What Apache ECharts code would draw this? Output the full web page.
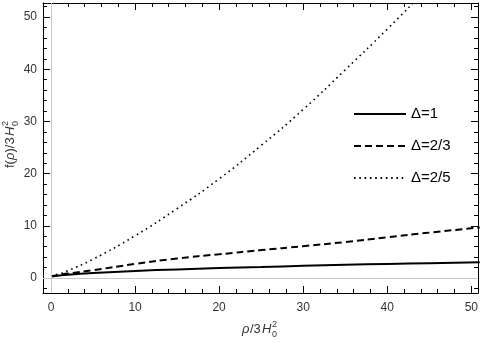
<!DOCTYPE html>
<html>
<head>
  <meta charset="UTF-8">
  <title>f(rho) curves</title>
  <script src="https://cdn.jsdelivr.net/npm/echarts@6/dist/echarts.min.js"></script>
  <style>
    html, body { margin: 0; padding: 0; background: #fff; }
    #chart { width: 481px; height: 343px; }
  </style>
</head>
<body>
  <div id="chart"></div>
  <script>
    // values
    const rho = [0, 1, 2, 5, 10, 15, 20, 25, 30, 35, 40, 45, 51];
    const fDelta1 = [0.3, 0.5, 0.65, 0.95, 1.35, 1.65, 1.9, 2.1, 2.35, 2.55, 2.7, 2.85, 3.0];
    const fDelta23 = [0.35, 0.6, 0.85, 1.5, 2.7, 3.75, 4.55, 5.35, 6.1, 6.9, 7.8, 8.7, 9.7];
    const fDelta25 = [0.4, 0.8, 1.4, 3.6, 8.1, 13.3, 19.0, 25.4, 32.3, 39.9, 47.7, 55.9, 66];
    const seriesNames = ['Δ=1', 'Δ=2/3', 'Δ=2/5'];

    // tick positions
    const xMajor = [0, 10, 20, 30, 40, 50];
    const xMinor = [0, 2, 4, 6, 8, 10, 12, 14, 16, 18, 20, 22, 24, 26, 28, 30, 32, 34, 36, 38, 40, 42, 44, 46, 48, 50];
    const yMajor = [0, 10, 20, 30, 40, 50];
    const yMinor = [-2, 0, 2, 4, 6, 8, 10, 12, 14, 16, 18, 20, 22, 24, 26, 28, 30, 32, 34, 36, 38, 40, 42, 44, 46, 48, 50, 52];

    const X_MIN = -0.95, X_MAX = 50.8;
    const Y_MIN = -2.87, Y_MAX = 52.7;

    const chart = echarts.init(document.getElementById('chart'));
    const font = 'Liberation Sans, Arial, sans-serif';
    const frameColor = '#000';

    const pairs = ys => rho.map((x, i) => [x, ys[i]]);

    function frameAxis(kind, pos, ticks, tickLen, showLine, labels) {
      const ax = {
        type: 'value',
        position: pos,
        min: kind === 'x' ? X_MIN : Y_MIN,
        max: kind === 'x' ? X_MAX : Y_MAX,
        axisLine: { show: showLine, onZero: false, lineStyle: { color: frameColor, width: 1 } },
        axisTick: {
          show: true, inside: true, length: tickLen, customValues: ticks,
          lineStyle: { color: frameColor, width: 1 }
        },
        splitLine: { show: false },
        axisLabel: { show: false }
      };
      if (labels) {
        ax.axisLabel = {
          show: true, color: '#333', fontSize: 12, fontFamily: font,
          margin: kind === 'x' ? 9 : 6,
          customValues: ticks
        };
      }
      return ax;
    }

    const option = {
      animation: false,
      grid: { left: 43, right: 2, top: 3, bottom: 50 },
      xAxis: [
        frameAxis('x', 'bottom', xMajor, 7, true, true),
        frameAxis('x', 'bottom', xMinor, 4, false, false),
        frameAxis('x', 'top', xMajor, 7, true, false),
        frameAxis('x', 'top', xMinor, 4, false, false)
      ],
      yAxis: [
        frameAxis('y', 'left', yMajor, 7, true, true),
        frameAxis('y', 'left', yMinor, 4, false, false),
        frameAxis('y', 'right', yMajor, 7, true, false),
        frameAxis('y', 'right', yMinor, 4, false, false)
      ],
      legend: {
        orient: 'vertical',
        left: 348,
        top: 100,
        itemWidth: 52,
        itemHeight: 14,
        itemGap: 14,
        data: seriesNames,
        itemStyle: { opacity: 0 },
        textStyle: { fontSize: 15, fontFamily: font, color: '#000', lineHeight: 18 }
      },
      series: [
        {
          type: 'line',
          data: [],
          silent: true,
          z: 1,
          markLine: {
            silent: true,
            symbol: 'none',
            label: { show: false },
            lineStyle: { color: '#c8c8c8', width: 1, type: 'solid' },
            data: [{ xAxis: 0 }, { yAxis: 0 }]
          }
        },
        {
          name: seriesNames[0], type: 'line', smooth: true, symbol: 'none', clip: true, z: 3,
          data: pairs(fDelta1),
          lineStyle: { color: '#000', width: 2, type: 'solid' },
          itemStyle: { color: '#000' }
        },
        {
          name: seriesNames[1], type: 'line', smooth: true, symbol: 'none', clip: true, z: 3,
          data: pairs(fDelta23),
          lineStyle: { color: '#000', width: 2, type: [7, 4] },
          itemStyle: { color: '#000' }
        },
        {
          name: seriesNames[2], type: 'line', smooth: true, symbol: 'none', clip: true, z: 3,
          data: pairs(fDelta25),
          lineStyle: { color: '#000', width: 1.6, type: [1.6, 3.7] },
          itemStyle: { color: '#000' }
        }
      ],
      graphic: [
        {
          type: 'group', left: 242, top: 320,
          children: [
            { type: 'text', x: 0, y: 3, style: { text: 'ρ', font: 'italic 13px ' + font, fill: '#333' } },
            { type: 'text', x: 8, y: 3, style: { text: '/3', font: '13px ' + font, fill: '#333' } },
            { type: 'text', x: 20, y: 3, style: { text: 'H', font: 'italic 13px ' + font, fill: '#333' } },
            { type: 'text', x: 30, y: 0, style: { text: '2', font: '9px ' + font, fill: '#333' } },
            { type: 'text', x: 30, y: 10, style: { text: '0', font: '9px ' + font, fill: '#333' } }
          ]
        },
        {
          type: 'group', x: 4, y: 168, rotation: Math.PI / 2,
          children: [
            { type: 'text', x: 0, y: 0, style: { text: 'f(', font: '13px ' + font, fill: '#333' } },
            { type: 'text', x: 8, y: 0, style: { text: 'ρ', font: 'italic 13px ' + font, fill: '#333' } },
            { type: 'text', x: 15.5, y: 0, style: { text: ')/3', font: '13px ' + font, fill: '#333' } },
            { type: 'text', x: 32, y: 0, style: { text: 'H', font: 'italic 13px ' + font, fill: '#333' } },
            { type: 'text', x: 42, y: -3, style: { text: '2', font: '9px ' + font, fill: '#333' } },
            { type: 'text', x: 42, y: 7, style: { text: '0', font: '9px ' + font, fill: '#333' } }
          ]
        }
      ]
    };

    chart.setOption(option);
  </script>
</body>
</html>
